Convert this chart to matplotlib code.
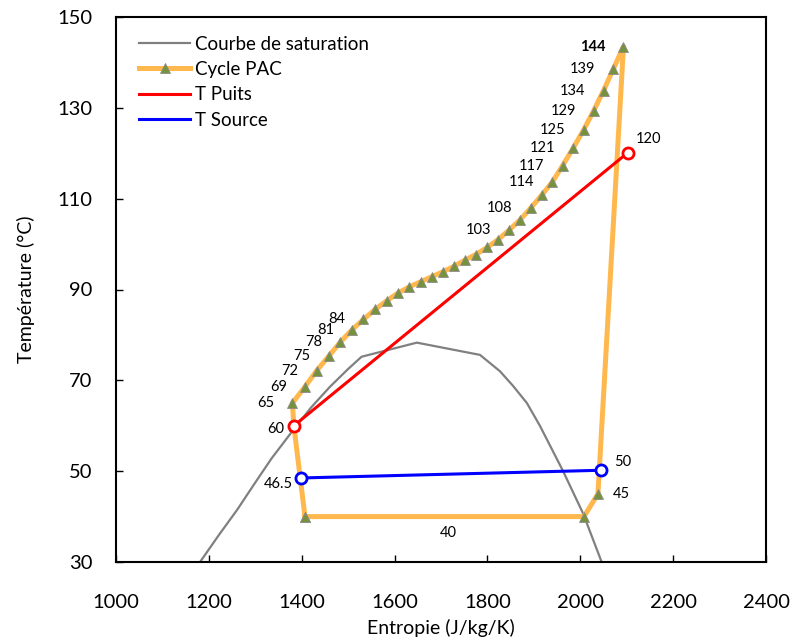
import numpy as np
import matplotlib
matplotlib.use('Agg')
import matplotlib.pyplot as plt

plt.rcParams['font.family'] = ['Lato', 'DejaVu Sans']

# saturation curve (entropy J/kg/K, temperature C)
sat_s = [1181, 1222, 1261, 1300, 1335, 1382, 1420, 1461, 1500, 1529, 1648, 1784,
         1827, 1855, 1885, 1913, 1963, 2006, 2046]
sat_t = [30, 36, 41.5, 47.5, 52.8, 59.1, 64.0, 68.6, 72.5, 75.2, 78.3, 75.6,
         72.0, 68.8, 65.0, 60.0, 50.0, 40.7, 30]

# heat pump cycle, in path order
cycle_s = [1407, 2008, 2038, 2093, 2071, 2050, 2029, 2007, 1985, 1962, 1940, 1917, 1893,
           1870, 1847, 1823, 1800, 1775, 1752, 1728, 1704, 1680, 1656, 1632, 1607, 1583,
           1558, 1533, 1508, 1483, 1458, 1432, 1407, 1380, 1383, 1407]
cycle_t = [40, 40, 45, 143.5, 138.5, 133.8, 129.4, 125.1, 121.2, 117.3, 113.7, 110.8, 107.9,
           105.3, 103.1, 101.0, 99.3, 97.7, 96.5, 95.1, 93.9, 92.8, 91.7, 90.6, 89.2, 87.5,
           85.6, 83.4, 81.1, 78.4, 75.3, 72.1, 68.6, 65.0, 60.0, 40]

# labels on the compression / condensation curve (index in cycle, text)
curve_idx = [3, 4, 5, 6, 7, 8, 9, 10, 12, 14, 27, 28, 29, 30, 31, 32, 33]
curve_txt = ['144', '139', '134', '129', '125', '121', '117', '114', '108', '103',
             '84', '81', '78', '75', '72', '69', '65']

puits_s = [1383, 2102]
puits_t = [60.0, 120.1]
source_s = [1398, 2045]
source_t = [48.5, 50.2]

fig = plt.figure(figsize=(7.95, 6.43), dpi=100)
ax = fig.add_axes([116 / 795, 1 - 562 / 643, 650 / 795, 545 / 643])

ax.plot(sat_s, sat_t, color='#808080', lw=1.6, label='Courbe de saturation')
ax.plot(cycle_s, cycle_t, color='#FFB84D', lw=3.6, marker='^', ms=7,
        mfc='#76923C', mec='#8C8C8C', mew=0.6, label='Cycle PAC')
ax.plot(puits_s, puits_t, color='#FF0000', lw=2.2, label='T Puits')
ax.plot(puits_s, puits_t, ls='none', marker='o', ms=8, mfc='white', mec='#FF0000', mew=2)
ax.plot(source_s, source_t, color='#0000FF', lw=2.2, label='T Source')
ax.plot(source_s, source_t, ls='none', marker='o', ms=8, mfc='white', mec='#0000FF', mew=2)

lab = dict(fontsize=10.5, textcoords='offset points')
for i, txt in zip(curve_idx, curve_txt):
    w = 'bold' if txt == '144' else 'normal'
    ax.annotate(txt, (cycle_s[i], cycle_t[i]), xytext=(-13, 0), ha='right',
                va='center', fontweight=w, **lab)
ax.annotate('60', (puits_s[0], puits_t[0]), xytext=(-7, -2), ha='right', va='center', **lab)
ax.annotate('120', (puits_s[1], puits_t[1]), xytext=(6, 10), ha='left', va='center', **lab)
ax.annotate('46.5', (source_s[0], source_t[0]), xytext=(-6, -4), ha='right', va='center', **lab)
ax.annotate('50', (source_s[1], source_t[1]), xytext=(9, 6), ha='left', va='center', **lab)
ax.annotate('45', (cycle_s[2], cycle_t[2]), xytext=(11, 0), ha='left', va='center', **lab)
ax.annotate('40', ((cycle_s[0] + cycle_s[1]) / 2, 40), xytext=(3, -12), ha='center',
            va='center', **lab)

ax.set_xlim(1000, 2400)
ax.set_ylim(30, 150)
ax.set_xticks(np.arange(1000, 2401, 200))
ax.set_yticks(np.arange(30, 151, 20))
ax.tick_params(direction='in', length=5, width=1, labelsize=14.5)
ax.tick_params(axis='x', pad=23)
ax.tick_params(axis='y', pad=17)
for sp in ax.spines.values():
    sp.set_linewidth(1.5)

ax.set_xlabel('Entropie (J/kg/K)', fontsize=14, labelpad=6)
ax.set_ylabel('Température (°C)', fontsize=14, labelpad=16)

ax.legend(loc='upper left', bbox_to_anchor=(0.01, 0.997), frameon=False, fontsize=13.5,
          handlelength=2.7, handletextpad=0.27, labelspacing=0.45, numpoints=1)

fig.savefig('out.png', dpi=100)
